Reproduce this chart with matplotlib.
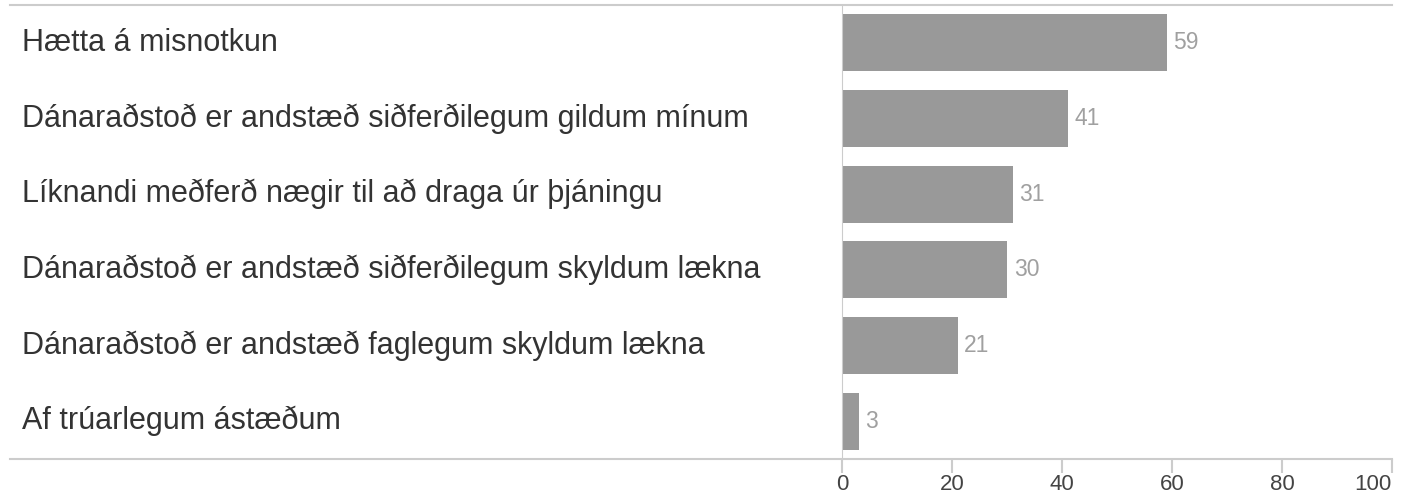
import matplotlib
matplotlib.use("Agg")
import matplotlib.pyplot as plt

plt.rcParams["font.family"] = ["Liberation Sans", "DejaVu Sans"]

categories = [
    "Hætta á misnotkun",
    "Dánaraðstoð er andstæð siðferðilegum gildum mínum",
    "Líknandi meðferð nægir til að draga úr þjáningu",
    "Dánaraðstoð er andstæð siðferðilegum skyldum lækna",
    "Dánaraðstoð er andstæð faglegum skyldum lækna",
    "Af trúarlegum ástæðum",
]
values = [59, 41, 31, 30, 21, 3]
xticks = [0, 20, 40, 60, 80, 100]

W, H = 1420, 500
fig = plt.figure(figsize=(W / 100, H / 100), dpi=100)
left, right, top, bottom = 842, 1392, 5, 459
ax = fig.add_axes([left / W, 1 - bottom / H, (right - left) / W, (bottom - top) / H])

n = len(categories)
ypos = list(range(n))
ax.barh(ypos, values, height=0.75, color="#999999", zorder=2)
ax.set_ylim(n - 0.5, -0.5)
ax.set_xlim(0, 100)

for y, v in zip(ypos, values):
    ax.text(v + 1.2, y, str(v), va="center", ha="left", fontsize=16.5, color="#a0a0a0")

for y, lab in zip(ypos, categories):
    ax.text(-(left - 22) / (right - left) * 100, y, lab, va="center", ha="left",
            fontsize=22, color="#333333")

for s in ax.spines.values():
    s.set_visible(False)
ax.spines["left"].set_visible(True)
ax.spines["left"].set_color("#cccccc")

line_x0 = -(left - 10) / (right - left)
for yy in (0, 1):
    ax.plot([line_x0, 1], [yy, yy], transform=ax.transAxes, clip_on=False,
            color="#cccccc", lw=1.5)

ax.set_yticks([])
ax.set_xticks(xticks)
ax.tick_params(axis="x", length=10, width=1.5, color="#cccccc", labelsize=16,
               labelcolor="#444444", pad=1)
ax.get_xticklabels()[-1].set_horizontalalignment("right")

fig.savefig("out.png", dpi=100)
